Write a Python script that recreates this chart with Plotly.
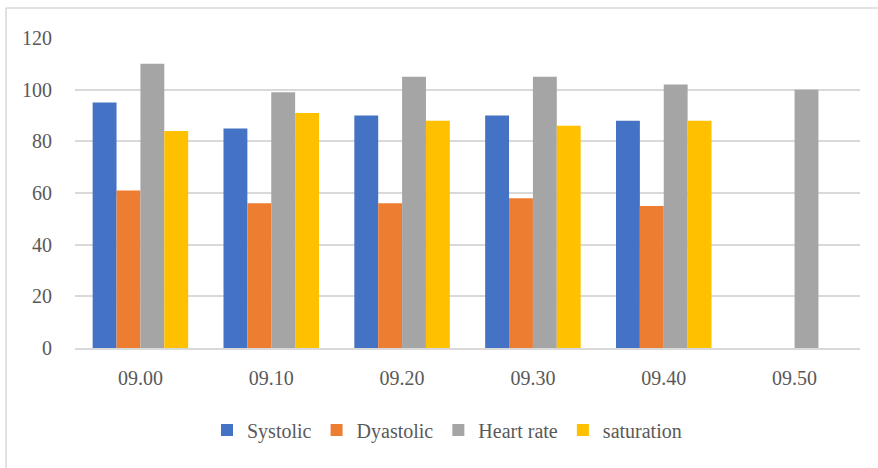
import plotly.graph_objects as go

times = ["09.00", "09.10", "09.20", "09.30", "09.40", "09.50"]
systolic = [95, 85, 90, 90, 88, None]
dyastolic = [61, 56, 56, 58, 55, None]
heart_rate = [110, 99, 105, 105, 102, 100]
saturation = [84, 91, 88, 86, 88, None]

series = [
    ("Systolic", systolic, "#4472C4"),
    ("Dyastolic", dyastolic, "#ED7D31"),
    ("Heart rate", heart_rate, "#A5A5A5"),
    ("saturation", saturation, "#FFC000"),
]

fig = go.Figure()
for name, vals, color in series:
    fig.add_trace(go.Bar(x=times, y=vals, name=name, marker=dict(color=color, line=dict(width=0))))

font = dict(family="Liberation Serif, Times New Roman, serif", size=20, color="#595959")

L, R, T, B = 75, 860, 38, 348
W, H = R - L, B - T

fig.update_layout(
    width=878, height=468,
    margin=dict(l=L, r=878 - R, t=T, b=468 - B),
    paper_bgcolor="white", plot_bgcolor="white",
    barmode="group", bargap=0.27, bargroupgap=0,
    font=font,
    showlegend=True,
    legend=dict(orientation="h", x=(447 - L) / W, xanchor="center", y=(B - 430) / H, yanchor="middle",
                font=font, itemwidth=30, tracegroupgap=0),
    xaxis=dict(showgrid=False, showline=True, linecolor="#d9d9d9", linewidth=1.5,
               ticks="", ticklabelstandoff=11, tickfont=font),
    yaxis=dict(range=[0, 120], dtick=20, showgrid=True, gridcolor="#d9d9d9", gridwidth=1.5,
               zeroline=False, showline=False, ticks="", ticklabelstandoff=22, tickfont=font),
    shapes=[
        dict(type="line", xref="paper", yref="paper", x0=(6 - L) / W, x1=(880 - L) / W,
             y0=(B - 8) / H, y1=(B - 8) / H, line=dict(color="#d9d9d9", width=1.5)),
        dict(type="line", xref="paper", yref="paper", x0=(6 - L) / W, x1=(6 - L) / W,
             y0=(B - 8) / H, y1=(B - 470) / H, line=dict(color="#d9d9d9", width=1.5)),
    ],
)

fig.write_html("out.html", config={"displayModeBar": False},
               post_script="document.body.style.margin='0';")
